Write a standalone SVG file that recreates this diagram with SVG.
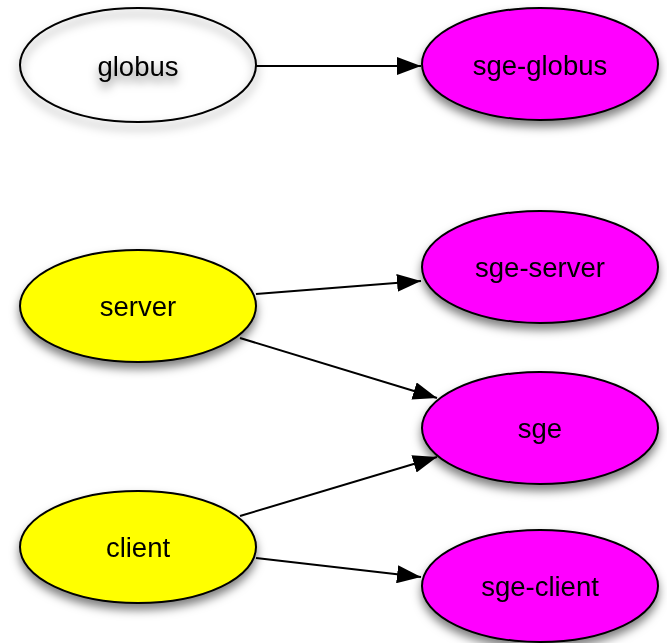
<svg xmlns="http://www.w3.org/2000/svg" width="667" height="643" viewBox="0 0 667 643">
<style>
.n ellipse{stroke:#000;stroke-width:2}
.n text{font-family:"Liberation Sans",Arial,sans-serif;font-size:27.5px;text-anchor:middle;fill:#000}
.y{fill:#ffff00}
.m{fill:#ff00ff}
.w{fill:none}
.e line{stroke:#000;stroke-width:2;marker-end:url(#ah)}
</style>
<defs>
<filter id="sh" x="-20%" y="-20%" width="140%" height="160%">
<feDropShadow dx="0" dy="6" stdDeviation="5" flood-color="#000" flood-opacity="0.5"/>
</filter>
<marker id="ah" viewBox="0 0 24 18" refX="24" refY="9" markerWidth="24" markerHeight="18" markerUnits="userSpaceOnUse" orient="auto">
<path d="M0,0 L24,9 L0,18 Z" fill="#000"/>
</marker>
</defs>
<rect width="667" height="643" fill="#fff"/>
<g id="globus" class="n" filter="url(#sh)"><ellipse class="w" cx="138" cy="65" rx="118" ry="57"/><text x="138" y="76">globus</text></g>
<g id="sge-globus" class="n" filter="url(#sh)"><ellipse class="m" cx="540" cy="64" rx="118" ry="56"/><text x="540" y="75">sge-globus</text></g>
<g id="server" class="n" filter="url(#sh)"><ellipse class="y" cx="138" cy="306" rx="118" ry="56"/><text x="138" y="316">server</text></g>
<g id="client" class="n" filter="url(#sh)"><ellipse class="y" cx="138" cy="547" rx="118" ry="56"/><text x="138" y="557">client</text></g>
<g id="sge-server" class="n" filter="url(#sh)"><ellipse class="m" cx="540" cy="267" rx="118" ry="56"/><text x="540" y="277">sge-server</text></g>
<g id="sge" class="n" filter="url(#sh)"><ellipse class="m" cx="540" cy="428" rx="118" ry="56"/><text x="540" y="438">sge</text></g>
<g id="sge-client" class="n" filter="url(#sh)"><ellipse class="m" cx="540" cy="586" rx="118" ry="56"/><text x="540" y="596">sge-client</text></g>
<g id="edges" class="e">
<line x1="256" y1="66" x2="421" y2="66"/>
<line x1="256" y1="294" x2="421" y2="281"/>
<line x1="240" y1="338" x2="437" y2="398"/>
<line x1="240" y1="516" x2="437" y2="457"/>
<line x1="256" y1="558" x2="421" y2="577"/>
</g>
</svg>
